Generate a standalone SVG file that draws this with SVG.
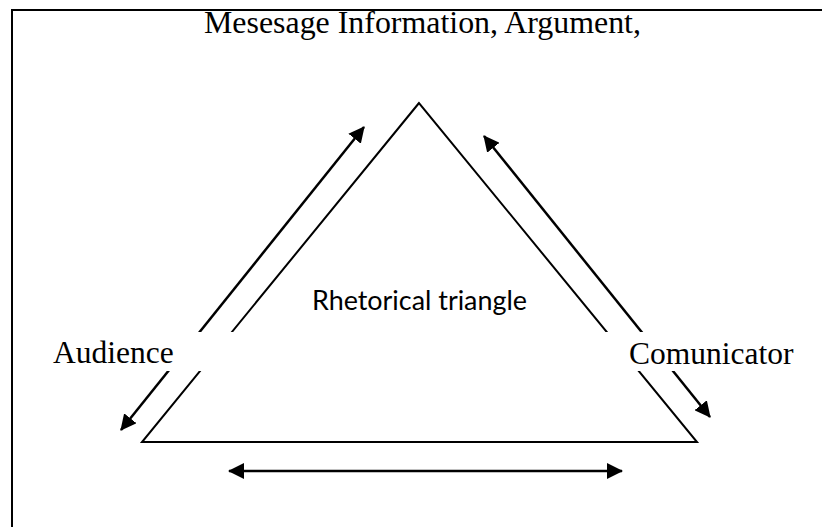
<svg xmlns="http://www.w3.org/2000/svg" width="822" height="527" viewBox="0 0 822 527">
  <style>
    .serif { font-family: "Liberation Serif", "Times New Roman", serif; font-size: 31.5px; fill: #000; }
    .sans { font-family: Lato, "Open Sans", "Liberation Sans", sans-serif; font-size: 27px; fill: #000; }
    .edge { stroke: #000; stroke-width: 2; fill: none; }
    .arrow { stroke: #000; stroke-width: 2.5; fill: none; }
    .mask { fill: #fff; stroke: none; }
  </style>
  <defs>
    <marker id="head" viewBox="0 0 16 16" refX="15" refY="8" markerWidth="16" markerHeight="16" markerUnits="userSpaceOnUse" orient="auto-start-reverse">
      <path d="M0,0 L16,8 L0,16 z" fill="#000"/>
    </marker>
  </defs>
  <rect width="822" height="527" fill="#fff"/>
  <g id="frame">
    <path class="edge" d="M12,527 L12,10 L822,10"/>
  </g>
  <g id="triangle">
    <polygon class="edge" points="419,103 142,442 697,442" stroke-linejoin="miter"/>
  </g>
  <g id="connectors">
    <line class="arrow" x1="121" y1="430" x2="364" y2="127" marker-start="url(#head)" marker-end="url(#head)"/>
    <line class="arrow" x1="484" y1="136" x2="710" y2="417" marker-start="url(#head)" marker-end="url(#head)"/>
    <line class="arrow" x1="229" y1="471" x2="622" y2="471" marker-start="url(#head)" marker-end="url(#head)"/>
  </g>
  <g id="message">
    <text class="serif" x="204" y="33" style="font-size:31.9px">Mesesage Information, Argument,</text>
  </g>
  <g id="audience">
    <rect class="mask" x="40" y="332" width="205" height="39"/>
    <text class="serif" x="53" y="363">Audience</text>
  </g>
  <g id="communicator">
    <rect class="mask" x="600" y="332" width="210" height="39"/>
    <text class="serif" x="629" y="364">Comunicator</text>
  </g>
  <g id="center-label">
    <text class="sans" x="312" y="310" textLength="215" lengthAdjust="spacingAndGlyphs">Rhetorical triangle</text>
  </g>
</svg>
